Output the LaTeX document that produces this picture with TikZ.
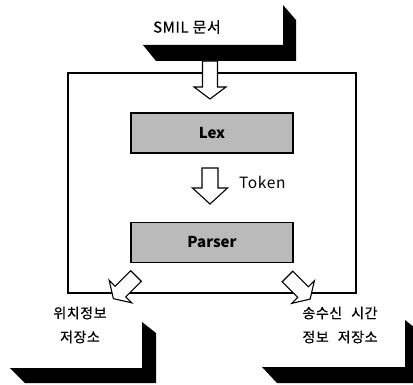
\documentclass[tikz,border=0pt]{standalone}
\usepackage{fontspec}
\setmainfont{Noto Sans CJK KR}
\begin{document}
\begin{tikzpicture}[x=1pt,y=-1pt,
  frameline/.style={line width=1.4pt},
  shadowfill/.style={fill=black,draw=none},
  procbox/.style={draw,line width=1.3pt,fill=black!27,minimum width=162pt,minimum height=40pt,inner sep=0pt,font=\fontsize{15}{17}\selectfont\bfseries},
  label/.style={inner sep=0pt,align=center,font=\fontsize{14}{24}\selectfont\addfontfeatures{LetterSpace=4,FakeBold=0.5}},
  pics/harrow/.style n args={4}{code={
    \draw[fill=white,line width=1.1pt,line join=miter]
      (0,-#3) -- (#1,-#3) -- (#1,-#4) -- (#1+#2,0) -- (#1,#4) -- (#1,#3) -- (0,#3) -- cycle;}}
]
\useasboundingbox (0,0) rectangle (413,385);
\clip (0,0) rectangle (413,385);

% frame
\node[draw,frameline,minimum width=288pt,minimum height=220pt,inner sep=0pt] (frame) at (212,183) {};

% shadow boxes
\fill[shadowfill] (143,45) -- (283,45) -- (283,5) -- (296,20) -- (296,61) -- (156,61) -- cycle;
\node[label,font=\fontsize{15}{24}\selectfont\addfontfeatures{LetterSpace=4,FakeBold=0.5}] (smil) at (187,27) {SMIL 문서};

\fill[shadowfill] (10,368) -- (142,368) -- (142,322) -- (156,333) -- (156,383) -- (25,383) -- cycle;
\node[label] (loc) at (80,325) {위치정보\\저장소};

\fill[shadowfill] (262,367) -- (405,367) -- (405,320) -- (419,331) -- (419,383) -- (277,383) -- cycle;
\node[label] (time) at (340,325) {송수신\hspace{9pt}시간\\정보\hspace{9pt}저장소};

% process boxes
\node[procbox] (lex) at (212,133) {Lex};
\node[procbox] (parser) at (212,242.5) {Parser};

% block arrows
\pic[rotate=-90] at (210,61) {harrow={26}{12}{7.5}{16}};
\pic[rotate=-90] at (210,168) {harrow={20}{16}{8}{17.5}};
\node[anchor=west,inner sep=0pt,font=\fontsize{15.5}{17}\selectfont\addfontfeatures{LetterSpace=4}] (token) at (239,182) {Token};
\pic[rotate=-135] at (136,276) {harrow={22}{10}{7.5}{16}};
\pic[rotate=-45] at (287.5,276.5) {harrow={22}{10}{7.5}{16}};
\end{tikzpicture}
\end{document}
